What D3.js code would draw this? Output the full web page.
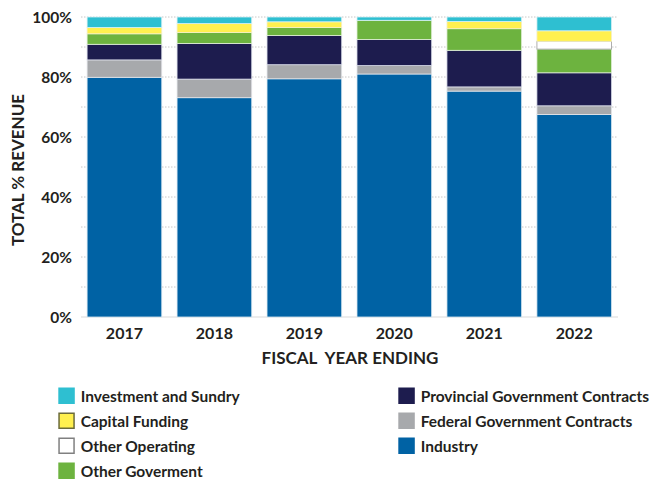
<!DOCTYPE html>
<html>
<head>
<meta charset="utf-8">
<script src="https://cdn.jsdelivr.net/npm/d3@7"></script>
<style>
  html, body { margin: 0; padding: 0; background: #fff; }
  svg { display: block; }
  text { font-family: Lato, "Open Sans", sans-serif; font-weight: 700; fill: #231f20; }
</style>
</head>
<body>
<svg id="chart" width="650" height="479"></svg>
<script>
// Fiscal years and revenue shares (% of total) by source
const years = ["2017", "2018", "2019", "2020", "2021", "2022"];
const industry       = [79.9, 73.1, 79.4, 81.0, 75.3, 67.5];
const federal        = [5.8, 6.2, 4.7, 2.8, 1.4, 2.9];
const provincial     = [5.2, 11.9, 9.7, 8.7, 12.2, 11.0];
const otherGov       = [3.5, 3.6, 2.7, 6.4, 7.2, 7.9];
const otherOperating = [0.0, 0.0, 0.0, 0.0, 0.0, 2.6];
const capital        = [2.1, 3.0, 1.9, 0.0, 2.4, 3.5];
const investment     = [3.5, 2.2, 1.6, 1.1, 1.5, 4.6];
const yTicks = [0, 20, 40, 60, 80, 100];
const gridTicks = [10, 20, 30, 40, 50, 60, 70, 80, 90, 100];

// Stack order, bottom to top
const series = [
  { key: "industry",   name: "Industry",                        values: industry,       fill: "#0062a4", stroke: "#d8e8f2" },
  { key: "federal",    name: "Federal Government Contracts",    values: federal,        fill: "#a7a9ac", stroke: "#e4e6ea" },
  { key: "provincial", name: "Provincial Government Contracts", values: provincial,     fill: "#1d1c4e", stroke: "#d8dbe8" },
  { key: "otherGov",   name: "Other Goverment",                 values: otherGov,       fill: "#6db33f", stroke: "#e2efd8" },
  { key: "otherOp",    name: "Other Operating",                 values: otherOperating, fill: "#ffffff", stroke: "#9a9a9a" },
  { key: "capital",    name: "Capital Funding",                 values: capital,        fill: "#fff04f", stroke: "#f4f0c8" },
  { key: "investment", name: "Investment and Sundry",           values: investment,     fill: "#2ebfd1", stroke: "#d9f1f5" }
];

const rows = years.map((y, i) => {
  const r = { year: y };
  series.forEach(s => { r[s.key] = s.values[i]; });
  return r;
});

const svg = d3.select("#chart");

const x = d3.scaleBand().domain(years).range([81.7, 617]).paddingInner(0.17).paddingOuter(0.06);
const y = d3.scaleLinear().domain([0, 100]).range([317, 17]);

// Dotted gridlines every 10%
svg.append("g").selectAll("line").data(gridTicks).join("line")
  .attr("x1", 81).attr("x2", 618)
  .attr("y1", d => y(d)).attr("y2", d => y(d))
  .attr("stroke", "#c8c8c8").attr("stroke-width", 1)
  .attr("stroke-dasharray", "1.5,1.5");

// Baseline
svg.append("line")
  .attr("x1", 81).attr("x2", 618).attr("y1", y(0)).attr("y2", y(0))
  .attr("stroke", "#d9d9d9").attr("stroke-width", 1);

// Stacked bars
const stack = d3.stack().keys(series.map(s => s.key));
const layers = stack(rows);
svg.append("g").selectAll("g").data(layers).join("g")
  .attr("fill", (d, i) => series[i].fill)
  .attr("stroke", (d, i) => series[i].stroke)
  .attr("stroke-width", 0.8)
  .selectAll("rect").data(d => d.filter(p => p[1] - p[0] > 0)).join("rect")
  .attr("x", d => x(d.data.year))
  .attr("width", x.bandwidth())
  .attr("y", d => y(d[1]))
  .attr("height", d => y(d[0]) - y(d[1]));

// Y axis labels
const yAxis = d3.axisLeft(y).tickValues(yTicks).tickFormat(d => d + "%").tickSize(0).tickPadding(0);
const yg = svg.append("g").attr("transform", "translate(72,0)").call(yAxis);
yg.select(".domain").remove();
yg.selectAll("text").attr("font-size", 15.5).attr("dy", "0.36em")
  .style("font-family", "Lato, sans-serif").style("font-weight", 700).attr("fill", "#231f20");

// X axis labels
const xAxis = d3.axisBottom(x).tickSize(0).tickPadding(0);
const xg = svg.append("g").attr("transform", "translate(0,325)").call(xAxis);
xg.select(".domain").remove();
xg.selectAll("text").attr("font-size", 16).attr("dy", "0.9em")
  .style("font-family", "Lato, sans-serif").style("font-weight", 700).attr("fill", "#231f20");

// Axis titles
svg.append("text")
  .attr("x", 350).attr("y", 364)
  .attr("text-anchor", "middle").attr("font-size", 17)
  .style("white-space", "pre")
  .text("FISCAL  YEAR ENDING");

svg.append("text")
  .attr("transform", "translate(24,170) rotate(-90)")
  .attr("text-anchor", "middle").attr("font-size", 17)
  .text("TOTAL % REVENUE");

// Legend
const legendLeft = ["investment", "capital", "otherOp", "otherGov"];
const legendRight = ["provincial", "federal", "industry"];
const swatchBorder = { capital: "#6b6b3a", otherOp: "#808080" };
function drawLegend(keys, x0) {
  keys.forEach((k, i) => {
    const s = series.find(d => d.key === k);
    const g = svg.append("g").attr("transform", `translate(${x0},${387.5 + i * 25})`);
    const b = swatchBorder[k];
    g.append("rect")
      .attr("x", b ? 0.75 : 0).attr("y", b ? 0.75 : 0)
      .attr("width", b ? 15 : 16.5).attr("height", b ? 15 : 16.5)
      .attr("fill", s.fill)
      .attr("stroke", b || "none").attr("stroke-width", 1.5);
    g.append("text").attr("x", 22.4).attr("y", 14).attr("font-size", 15.5).text(s.name);
  });
}
drawLegend(legendLeft, 58.3);
drawLegend(legendRight, 398.3);
</script>
</body>
</html>
